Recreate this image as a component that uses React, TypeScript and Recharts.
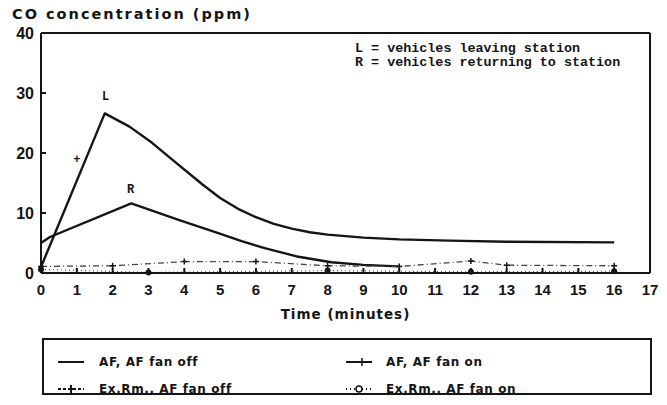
import { LineChart, Line, XAxis, YAxis, ReferenceLine, ReferenceDot } from "recharts";

// AF, AF fan off (upper curve)
const afOffTime = [0, 1.78, 2.47, 3.1, 3.68, 4.5, 5.0, 5.5, 6.0, 6.5, 7.0, 7.5, 8.0, 9.0, 10, 11.4, 13, 16];
const afOffCO = [1, 26.6, 24.4, 21.7, 18.8, 14.8, 12.5, 10.7, 9.3, 8.2, 7.4, 6.8, 6.4, 5.9, 5.6, 5.4, 5.2, 5.1];

// AF, AF fan on (lower curve)
const afOnTime = [0, 0.25, 2.52, 3.86, 4.97, 5.6, 6.27, 7.19, 8.1, 9.0, 9.97];
const afOnCO = [5, 6, 11.6, 8.8, 6.6, 5.3, 4.1, 2.7, 1.8, 1.35, 1.1];

// Ex.Rm., AF fan off
const exOffTime = [0, 2, 4, 6, 8, 10, 12, 13, 16];
const exOffCO = [1.1, 1.2, 1.9, 1.9, 1.2, 1.1, 2.0, 1.3, 1.2];

// Ex.Rm., AF fan on
const exOnTime = [0, 3, 8, 12, 16];
const exOnCO = [0.6, 0.1, 0.4, 0.2, 0.3];

const xTicks = [0, 1, 2, 3, 4, 5, 6, 7, 8, 9, 10, 11, 12, 13, 14, 15, 16, 17];
const yTicks = [0, 10, 20, 30, 40];

const markers = [
    { t: 1.8, v: 29.5, text: "L" },
    { t: 2.5, v: 14, text: "R" },
    { t: 1, v: 19, text: "+" },
];

const notes = ["L = vehicles leaving station", "R = vehicles returning to station"];

const toRows = (t: number[], v: number[]) => t.map((time, i) => ({ time, co: v[i] }));

const ink = "#151515";
const sans = "'Liberation Sans', Arial, sans-serif";
const wide = "'DejaVu Sans', sans-serif";

function PlusDot(props: any) {
    const { cx, cy } = props;
    if (cx == null || cy == null) return null;
    return (
        <path
            d={`M${cx - 3},${cy}L${cx + 3},${cy}M${cx},${cy - 3}L${cx},${cy + 3}`}
            stroke={ink}
            strokeWidth={1.5}
        />
    );
}

function RoundDot(props: any) {
    const { cx, cy } = props;
    if (cx == null || cy == null) return null;
    return <circle cx={cx} cy={cy} r={3} fill={ink} />;
}

const legendItems = [
    { name: "AF, AF fan off", dash: "", mark: "none" },
    { name: "AF, AF fan on", dash: "", mark: "tick" },
    { name: "Ex.Rm., AF fan off", dash: "3 2", mark: "plus" },
    { name: "Ex.Rm., AF fan on", dash: "1 3", mark: "circle" },
];

function Sample({ dash, mark }: { dash: string; mark: string }) {
    return (
        <svg width={28} height={10} style={{ display: "block" }}>
            <line x1={1} y1={5} x2={27} y2={5} stroke={ink} strokeWidth={2} strokeDasharray={dash || undefined} />
            {mark === "tick" && <line x1={17} y1={1} x2={17} y2={9} stroke={ink} strokeWidth={1.5} />}
            {mark === "plus" && <path d="M11,5L17,5M14,1L14,9" stroke={ink} strokeWidth={2} />}
            {mark === "circle" && <circle cx={14} cy={5} r={3} fill="#fff" stroke={ink} strokeWidth={1.5} />}
        </svg>
    );
}

export default function App() {
    return (
        <div style={{ position: "absolute", left: 0, top: 0, width: 667, height: 405, background: "#fff", overflow: "hidden" }}>
            <div style={{ position: "absolute", left: 12, top: 6, fontFamily: wide, fontWeight: 700, fontSize: 14.5, letterSpacing: 2, color: ink }}>
                CO concentration (ppm)
            </div>
            <div style={{ position: "absolute", left: 355, top: 42, fontFamily: "'Liberation Mono', monospace", fontWeight: 700, fontSize: 13.4, lineHeight: "13.5px", color: ink, whiteSpace: "pre" }}>
                {notes.map((n) => (
                    <div key={n}>{n}</div>
                ))}
            </div>
            <LineChart width={667} height={340} margin={{ top: 33, right: 17, bottom: 37, left: 0 }}>
                <XAxis
                    dataKey="time"
                    type="number"
                    domain={[0, 17]}
                    ticks={xTicks}
                    interval={0}
                    height={30}
                    allowDuplicatedCategory={false}
                    stroke={ink}
                    strokeWidth={2}
                    tickSize={-5}
                    tickMargin={16}
                    tick={{ fill: ink, fontFamily: sans, fontWeight: 700, fontSize: 15 }}
                    label={{ value: "Time (minutes)", position: "bottom", offset: 6, fill: ink, fontFamily: wide, fontWeight: 700, fontSize: 13.5, letterSpacing: 1 }}
                />
                <YAxis
                    dataKey="co"
                    type="number"
                    domain={[0, 40]}
                    ticks={yTicks}
                    width={41}
                    stroke={ink}
                    strokeWidth={2}
                    tickSize={-5}
                    tickMargin={12}
                    tick={{ fill: ink, fontFamily: sans, fontWeight: 700, fontSize: 16 }}
                />
                <ReferenceLine y={40} stroke={ink} strokeWidth={2} />
                <ReferenceLine x={17} stroke={ink} strokeWidth={2} />
                <Line data={toRows(afOffTime, afOffCO)} dataKey="co" type="linear" stroke={ink} strokeWidth={2.4} strokeLinejoin="round" dot={false} isAnimationActive={false} />
                <Line data={toRows(afOnTime, afOnCO)} dataKey="co" type="linear" stroke={ink} strokeWidth={2.4} strokeLinejoin="round" dot={false} isAnimationActive={false} />
                <Line data={toRows(exOffTime, exOffCO)} dataKey="co" type="linear" stroke="#444" strokeWidth={1.3} strokeDasharray="6 3 1 3" dot={<PlusDot />} isAnimationActive={false} />
                <Line data={toRows(exOnTime, exOnCO)} dataKey="co" type="linear" stroke="#555" strokeWidth={1.2} strokeDasharray="1 3" dot={<RoundDot />} isAnimationActive={false} />
                {markers.map((m) => (
                    <ReferenceDot
                        key={m.text}
                        x={m.t}
                        y={m.v}
                        r={0}
                        label={{ value: m.text, position: "center", fill: ink, fontFamily: "'Liberation Mono', monospace", fontWeight: 700, fontSize: 12 }}
                    />
                ))}
            </LineChart>
            <div style={{ position: "absolute", left: 42, top: 338, width: 606, height: 53, border: `2px solid ${ink}`, fontFamily: wide, fontWeight: 700, fontSize: 12, letterSpacing: 0.6, color: ink }}>
                {legendItems.map((it, i) => (
                    <div
                        key={it.name}
                        style={{
                            position: "absolute",
                            left: i % 2 === 0 ? 13 : 301,
                            top: i < 2 ? 16 : 43,
                            display: "flex",
                            alignItems: "center",
                            gap: i % 2 === 0 ? 14 : 13,
                            lineHeight: "12px",
                        }}
                    >
                        <Sample dash={it.dash} mark={it.mark} />
                        <span>{it.name}</span>
                    </div>
                ))}
            </div>
        </div>
    );
}
